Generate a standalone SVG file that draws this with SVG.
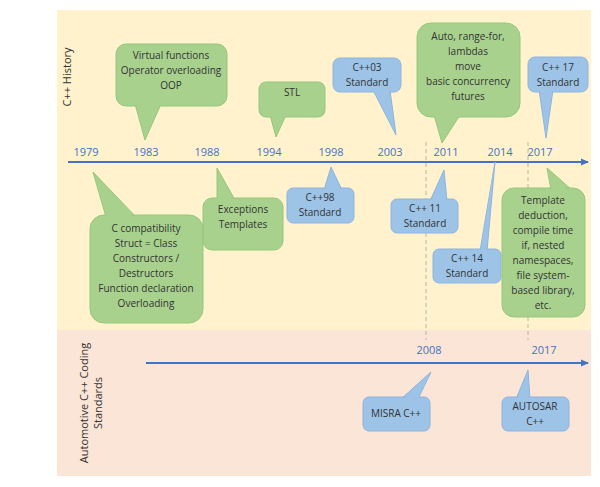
<svg xmlns="http://www.w3.org/2000/svg" width="600" height="487" viewBox="0 0 600 487">
<defs>
<marker id="ah" markerWidth="8" markerHeight="8" refX="7" refY="4" orient="auto" markerUnits="userSpaceOnUse"><path d="M0,0.5 L8,4 L0,7.5 Z" fill="#4472c4"/></marker>
</defs>
<style>
.g{fill:#a9d18e;stroke:#94c878;stroke-width:1}
.gn{fill:#a9d18e;stroke:none}
.b{fill:#9dc3e6;stroke:#8db4e2;stroke-width:1}
.bn{fill:#9dc3e6;stroke:none}
text{font-family:"Open Sans","Liberation Sans",sans-serif;font-size:10px;fill:#333;text-anchor:middle}
.yr{fill:#4472c4;font-size:11px}
.ax{stroke:#4472c4;stroke-width:2;fill:none}
.ds{stroke:#a6a6a6;stroke-width:0.8;stroke-dasharray:4,3}
</style>
<rect x="57" y="10" width="534" height="320" fill="#fff2cc"/>
<rect x="57" y="330" width="534" height="146" fill="#fbe5d6"/>
<text transform="translate(71,77) rotate(-90)" style="font-size:11px">C++ History</text>
<text transform="translate(88,403) rotate(-90)" style="font-size:11px">Automotive C++ Coding</text>
<text transform="translate(102,403) rotate(-90)" style="font-size:11px">Standards</text>
<g id="connectors">
<line class="ds" x1="426" y1="142" x2="426" y2="340"/>
<line class="ds" x1="528" y1="142" x2="528" y2="340"/>
<line class="ax" x1="68" y1="162" x2="588" y2="162" marker-end="url(#ah)"/>
<line class="ax" x1="146" y1="363" x2="588" y2="363" marker-end="url(#ah)"/>
</g>
<g id="years">
<text class="yr" x="86" y="156">1979</text><text class="yr" x="146" y="156">1983</text><text class="yr" x="207" y="156">1988</text><text class="yr" x="269" y="156">1994</text><text class="yr" x="331" y="156">1998</text><text class="yr" x="390" y="156">2003</text><text class="yr" x="446" y="156">2011</text><text class="yr" x="500" y="156">2014</text><text class="yr" x="540" y="156">2017</text>
<text class="yr" x="429" y="354">2008</text><text class="yr" x="544" y="354">2017</text>
</g>
<g id="n1983"><polygon class="g" points="135,104 145,140 161,104"/><rect class="g" x="116" y="44" width="111" height="62" rx="10"/><polygon class="gn" points="136,104 145,137 160,104"/>
<text x="171" y="59">Virtual functions</text><text x="171" y="74">Operator overloading</text><text x="171" y="89">OOP</text></g>
<g id="n1994"><polygon class="g" points="270,115 276,137 286,115"/><rect class="g" x="259" y="82" width="66" height="35" rx="7"/><polygon class="gn" points="271,115 276,134 285,115"/>
<text x="292" y="96">STL</text></g>
<g id="n2003"><polygon class="b" points="373,90 396,135 390,90"/><rect class="b" x="333" y="58" width="68" height="34" rx="7"/><polygon class="bn" points="374,90 394,130 389,90"/>
<text x="367" y="71">C++03</text><text x="367" y="86">Standard</text></g>
<g id="n2011a"><polygon class="g" points="434,115 442,143 460,115"/><rect class="g" x="417" y="23" width="103" height="94" rx="14"/><polygon class="gn" points="435,115 442,140 459,115"/>
<text x="468" y="40">Auto, range-for,</text><text x="468" y="55">lambdas</text><text x="468" y="70">move</text><text x="468" y="85">basic concurrency</text><text x="468" y="100">futures</text></g>
<g id="n2017a"><polygon class="b" points="539,90 546,138 553,90"/><rect class="b" x="528" y="57" width="60" height="35" rx="7"/><polygon class="bn" points="540,90 546,134 552,90"/>
<text x="558" y="71">C++ 17</text><text x="558" y="86">Standard</text></g>
<g id="n1979"><polygon class="g" points="106,217 93,172 136,217"/><rect class="g" x="90" y="215" width="113" height="108" rx="14"/><polygon class="gn" points="107,218 95,176 134,218"/>
<text x="146" y="232">C compatibility</text><text x="146" y="247">Struct = Class</text><text x="146" y="262">Constructors /</text><text x="146" y="277">Destructors</text><text x="146" y="292">Function declaration</text><text x="146" y="307">Overloading</text></g>
<g id="n1988"><polygon class="g" points="217,200 217,168 235,200"/><rect class="g" x="203" y="198" width="80" height="52" rx="9"/><polygon class="gn" points="218,201 218,172 233,201"/>
<text x="243" y="213">Exceptions</text><text x="243" y="228">Templates</text></g>
<g id="n1998"><polygon class="b" points="324,190 331,167 342,190"/><rect class="b" x="287" y="188" width="67" height="35" rx="6"/><polygon class="bn" points="325,191 331,171 341,191"/>
<text x="320" y="201">C++98</text><text x="320" y="216">Standard</text></g>
<g id="n2011b"><polygon class="b" points="430,201 444,170 447,201"/><rect class="b" x="391" y="199" width="67" height="34" rx="6"/><polygon class="bn" points="431,202 443,174 446,202"/>
<text x="425" y="212">C++ 11</text><text x="425" y="227">Standard</text></g>
<g id="n2014"><polygon class="b" points="487,251 495,162 480,251"/><rect class="b" x="433" y="249" width="68" height="34" rx="6"/><polygon class="bn" points="486,252 494,166 481,252"/>
<text x="467" y="262">C++ 14</text><text x="467" y="277">Standard</text></g>
<g id="n2017b"><polygon class="g" points="551,190 547,168 572,190"/><rect class="g" x="502" y="188" width="83" height="129" rx="12"/><polygon class="gn" points="552,191 548,172 569,191"/>
<text x="543" y="204">Template</text><text x="543" y="219">deduction,</text><text x="543" y="234">compile time</text><text x="543" y="249">if, nested</text><text x="543" y="264">namespaces,</text><text x="543" y="279">file system-</text><text x="543" y="294">based library,</text><text x="543" y="309">etc.</text></g>
<g id="misra"><polygon class="b" points="401,399 431,372 418,399"/><rect class="b" x="363" y="397" width="67" height="34" rx="6"/><polygon class="bn" points="403,400 429,376 417,400"/>
<text x="396" y="417">MISRA C++</text></g>
<g id="autosar"><polygon class="b" points="516,399 528,370 530,399"/><rect class="b" x="502" y="397" width="67" height="34" rx="6"/><polygon class="bn" points="517,400 527,374 529,400"/>
<text x="535" y="410">AUTOSAR</text><text x="535" y="425">C++</text></g>
</svg>
